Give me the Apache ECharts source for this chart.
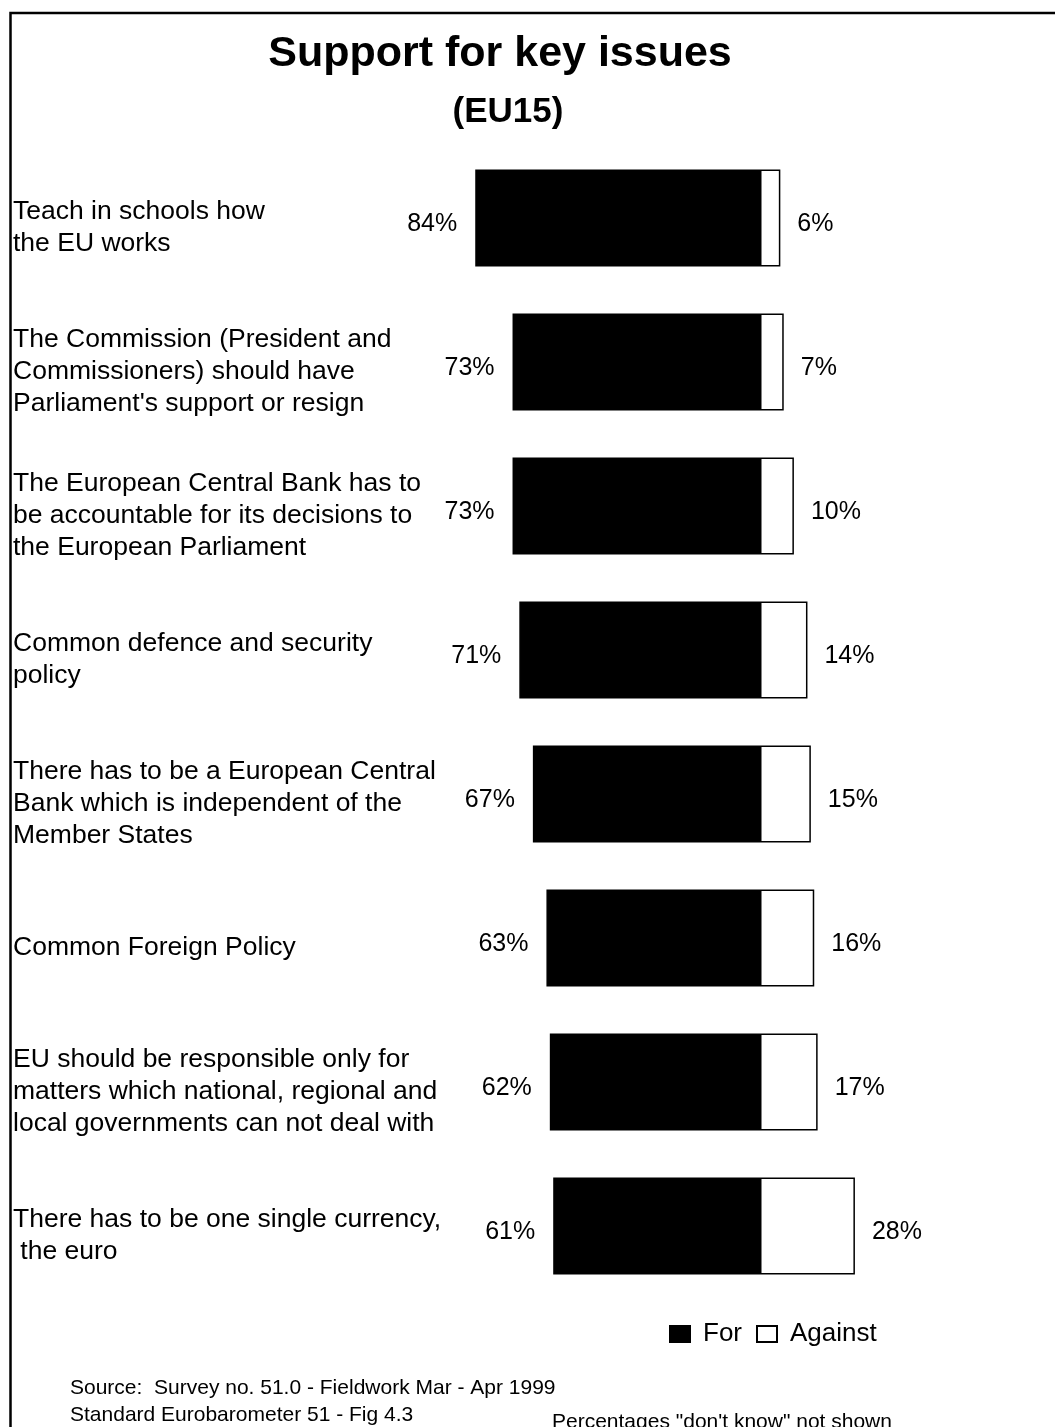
<!DOCTYPE html>
<html>
<head>
<meta charset="utf-8">
<title>Support for key issues (EU15)</title>
<script src="https://cdn.jsdelivr.net/npm/echarts@6/dist/echarts.min.js"></script>
<style>
  html, body { margin: 0; padding: 0; background: #fff; }
  #chart { width: 1055px; height: 1427px; }
</style>
</head>
<body>
<div id="chart"></div>
<script>
// Survey items, top to bottom
const issues = [
  'Teach in schools how\nthe EU works',
  'The Commission (President and\nCommissioners) should have\nParliament\'s support or resign',
  'The European Central Bank has to\nbe accountable for its decisions to\nthe European Parliament',
  'Common defence and security\npolicy',
  'There has to be a European Central\nBank which is independent of the\nMember States',
  'Common Foreign Policy',
  'EU should be responsible only for\nmatters which national, regional and\nlocal governments can not deal with',
  'There has to be one single currency,\n the euro'
];
// Share of respondents (%)
const forShare = [84, 73, 73, 71, 67, 63, 62, 61];
const againstShare = [6, 7, 10, 14, 15, 16, 17, 28];

const FONT = '"Liberation Sans", Arial, Helvetica, sans-serif';
const chart = echarts.init(document.getElementById('chart'), null, { renderer: 'canvas' });

// Item text sits a little below the bar centre: a thin leading spacer line
// pushes the centred text block down.
const itemLabel = v => '{sp| }\n' + v.split('\n').map(l => '{t|' + l + '}').join('\n');

chart.setOption({
  backgroundColor: '#fff',
  animation: false,
  textStyle: { fontFamily: FONT, color: '#000' },
  title: [
    {
      text: 'Support for key issues',
      left: 500, top: 33, textAlign: 'center', padding: 0,
      textStyle: { fontFamily: FONT, fontSize: 43, fontWeight: 'bold', color: '#000' }
    },
    {
      text: '(EU15)',
      left: 508, top: 95, textAlign: 'center', padding: 0,
      textStyle: { fontFamily: FONT, fontSize: 35, fontWeight: 'bold', color: '#000' }
    }
  ],
  legend: {
    left: 664, top: 1316,
    itemWidth: 20, itemHeight: 16, itemGap: 14,
    icon: 'rect',
    textStyle: { fontFamily: FONT, fontSize: 26, color: '#000', padding: [0, 0, 0, 8] },
    data: ['For', 'Against']
  },
  grid: { left: 421, top: 146, width: 508.5, height: 1152 },
  xAxis: {
    type: 'value', min: -100, max: 50, show: false
  },
  yAxis: {
    type: 'category', data: issues, inverse: true,
    axisLine: { show: false }, axisTick: { show: false }, splitLine: { show: false },
    axisLabel: {
      align: 'left', margin: 408, color: '#000',
      formatter: itemLabel,
      rich: {
        sp: { fontSize: 10, lineHeight: 20, align: 'left' },
        t: { fontFamily: FONT, fontSize: 26.5, lineHeight: 32, color: '#000', align: 'left' }
      }
    }
  },
  series: [
    {
      name: 'For', type: 'bar', stack: 'share', barWidth: 97,
      data: forShare.map(v => -v),
      itemStyle: { color: '#000', borderColor: '#000', borderWidth: 1.5 },
      label: {
        show: true, position: 'left', distance: 18, offset: [0, 6],
        fontFamily: FONT, fontSize: 25, color: '#000',
        formatter: p => Math.abs(p.value) + '%'
      }
    },
    {
      name: 'Against', type: 'bar', stack: 'share', barWidth: 97,
      data: againstShare,
      itemStyle: { color: '#fff', borderColor: '#000', borderWidth: 1.5 },
      label: {
        show: true, position: 'right', distance: 17, offset: [0, 6],
        fontFamily: FONT, fontSize: 25, color: '#000',
        formatter: p => p.value + '%'
      }
    }
  ],
  graphic: [
    {
      type: 'rect', silent: true,
      shape: { x: 10.5, y: 13, width: 1200, height: 1600 },
      style: { fill: 'none', stroke: '#000', lineWidth: 2.5 }
    },
    {
      type: 'text', left: 70, top: 1378,
      style: { text: 'Source:  Survey no. 51.0 - Fieldwork Mar - Apr 1999', font: '21px ' + FONT, fill: '#000' }
    },
    {
      type: 'text', left: 70, top: 1405,
      style: { text: 'Standard Eurobarometer 51 - Fig 4.3', font: '21px ' + FONT, fill: '#000' }
    },
    {
      type: 'text', left: 552, top: 1412,
      style: { text: 'Percentages "don\'t know" not shown', font: '21px ' + FONT, fill: '#000' }
    }
  ]
});
</script>
</body>
</html>
